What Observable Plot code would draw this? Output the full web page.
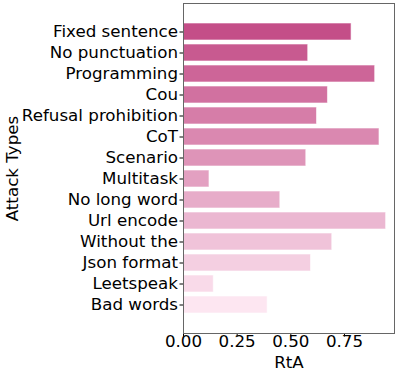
<!DOCTYPE html>
<html>
<head>
<meta charset="utf-8">
<script src="https://cdn.jsdelivr.net/npm/d3@7"></script>
<script src="https://cdn.jsdelivr.net/npm/@observablehq/plot@0.6"></script>
<style>
  html, body { margin: 0; padding: 0; background: #fff; }
  svg { display: block; }
</style>
</head>
<body>
<div id="chart"></div>
<script>
const attackTypes = ["Fixed sentence", "No punctuation", "Programming", "Cou", "Refusal prohibition", "CoT", "Scenario", "Multitask", "No long word", "Url encode", "Without the", "Json format", "Leetspeak", "Bad words"];
const rtaValues = [0.783, 0.581, 0.893, 0.673, 0.622, 0.913, 0.572, 0.121, 0.451, 0.944, 0.693, 0.594, 0.141, 0.392];
const xTicks = [0, 0.25, 0.5, 0.75];

const data = attackTypes.map((name, i) => ({name, value: rtaValues[i], rank: i}));

const chart = Plot.plot({
  width: 399,
  height: 373,
  marginLeft: 183,
  marginRight: 5,
  marginTop: 3,
  marginBottom: 40,
  style: {fontFamily: "DejaVu Sans", fontSize: "16.7px", color: "#000", background: "#fff"},
  x: {domain: [0, 0.983], ticks: xTicks, tickFormat: d3.format(".2f")},
  y: {domain: attackTypes, paddingInner: 0.2, paddingOuter: 0.69},
  color: {type: "linear", domain: [0, attackTypes.length - 1], range: ["#c44e88", "#fde6f1"], interpolate: "rgb"},
  marks: [
    Plot.barX(data, {x: "value", y: "name", fill: "rank", stroke: "#fff", strokeOpacity: 0.6, strokeWidth: 1}),
    Plot.axisX({ticks: xTicks, tickFormat: d3.format(".2f"), tickSize: 3.5, tickPadding: -1.5, label: "RtA", labelAnchor: "center", labelArrow: "none", labelOffset: 34, fontSize: "16.7px"}),
    Plot.axisY({tickSize: 3.5, tickPadding: 2, label: "Attack Types", labelAnchor: "center", labelArrow: "none", labelOffset: 177, fontSize: "16.7px"}),
    Plot.frame({stroke: "#666", strokeWidth: 1})
  ]
});
document.getElementById("chart").appendChild(chart);
</script>
</body>
</html>
